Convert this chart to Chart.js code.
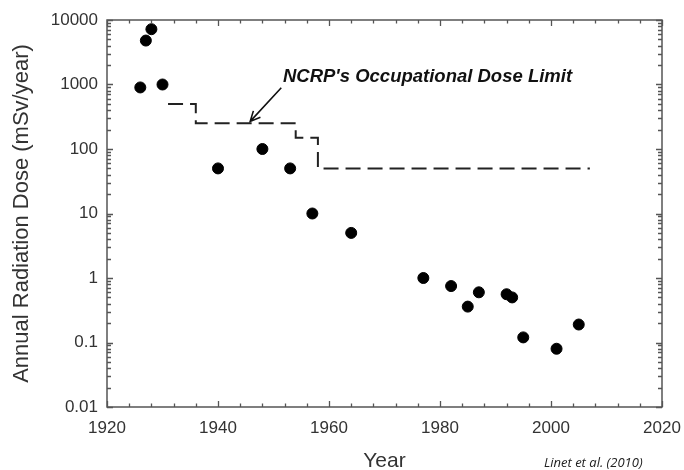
<!DOCTYPE html>
<html lang="en">
    <head>
        <meta charset="utf-8" />
        <title>Annual Radiation Dose</title>
        <style>
            body { margin: 0; background: #fff; }
        </style>
    </head>
    <body>
        <canvas id="doseChart" width="684" height="470"></canvas>
        <script src="https://cdn.jsdelivr.net/npm/chart.js@4.4.1/dist/chart.umd.min.js"></script>
        <script>
            // measured doses
            const years = [1926, 1927, 1928, 1930, 1940, 1948, 1953, 1957, 1964, 1977, 1982, 1985, 1987, 1992, 1993, 1995, 2001, 2005];
            const doses = [900, 4800, 7200, 1000, 50, 100, 50, 10, 5, 1, 0.75, 0.36, 0.6, 0.56, 0.5, 0.12, 0.08, 0.19];
            // NCRP limit, stepped
            const limitYears = [1931, 1936, 1954, 1958, 2007];
            const limitDoses = [500, 250, 150, 50, 50];
            const xTicks = [1920, 1940, 1960, 1980, 2000, 2020];
            const yTicks = [0.01, 0.1, 1, 10, 100, 1000, 10000];
            const limitLabel = "NCRP's Occupational Dose Limit";
            const labelAt = { x: 1951.7, y: 1080 };
            const arrowFrom = { x: 1951.4, y: 890 };
            const arrowTo = { x: 1945.8, y: 268 };
            const source = "Linet et al. (2010)";

            const FONT = "'Liberation Sans', Arial, sans-serif";

            const frame = {
                id: "frame",
                afterDatasetsDraw(chart) {
                    const ctx = chart.ctx;
                    const a = chart.chartArea;
                    const xs = chart.scales.x;
                    const ys = chart.scales.y;
                    ctx.save();
                    ctx.strokeStyle = "#555";
                    ctx.lineWidth = 1.3;
                    ctx.beginPath();
                    // x ticks every 4 years, top and bottom, pointing in
                    for (let v = xTicks[0]; v <= xTicks[xTicks.length - 1]; v += 4) {
                        const px = Math.round(xs.getPixelForValue(v)) + 0.5;
                        const len = v % 20 == 0 ? 6 : 3.5;
                        ctx.moveTo(px, a.bottom);
                        ctx.lineTo(px, a.bottom - len);
                        ctx.moveTo(px, a.top);
                        ctx.lineTo(px, a.top + len);
                    }
                    // y log ticks, left and right
                    for (let d = 0; d < yTicks.length; d++) {
                        for (let m = 1; m <= 9; m++) {
                            if (d == yTicks.length - 1 && m > 1) break;
                            const py = Math.round(ys.getPixelForValue(yTicks[d] * m)) + 0.5;
                            const len = m == 1 ? 6 : 4;
                            ctx.moveTo(a.left, py);
                            ctx.lineTo(a.left + len, py);
                            ctx.moveTo(a.right, py);
                            ctx.lineTo(a.right - len, py);
                        }
                    }
                    ctx.stroke();
                    ctx.lineWidth = 1.5;
                    ctx.strokeRect(a.left, a.top, a.right - a.left, a.bottom - a.top);

                    // annotation
                    ctx.fillStyle = "#111";
                    ctx.font = "italic bold 18.5px " + FONT;
                    ctx.textBaseline = "alphabetic";
                    ctx.fillText(limitLabel, xs.getPixelForValue(labelAt.x), ys.getPixelForValue(labelAt.y));
                    const x1 = xs.getPixelForValue(arrowFrom.x), y1 = ys.getPixelForValue(arrowFrom.y);
                    const x2 = xs.getPixelForValue(arrowTo.x), y2 = ys.getPixelForValue(arrowTo.y);
                    const ang = Math.atan2(y2 - y1, x2 - x1);
                    ctx.strokeStyle = "#111";
                    ctx.lineWidth = 1.6;
                    ctx.beginPath();
                    ctx.moveTo(x1, y1);
                    ctx.lineTo(x2, y2);
                    ctx.moveTo(x2 - 11 * Math.cos(ang - 0.45), y2 - 11 * Math.sin(ang - 0.45));
                    ctx.lineTo(x2, y2);
                    ctx.lineTo(x2 - 11 * Math.cos(ang + 0.45), y2 - 11 * Math.sin(ang + 0.45));
                    ctx.stroke();

                    // source note
                    ctx.fillStyle = "#222";
                    ctx.font = "italic 13px 'Open Sans', sans-serif";
                    ctx.textBaseline = "middle";
                    ctx.fillText(source, 544, 463);
                    ctx.restore();
                },
            };

            new Chart(document.getElementById("doseChart"), {
                type: "scatter",
                data: {
                    datasets: [
                        {
                            label: "Dose",
                            data: years.map((y, i) => ({ x: y, y: doses[i] })),
                            backgroundColor: "#000",
                            borderColor: "#000",
                            pointRadius: 5.5,
                        },
                        {
                            label: "NCRP limit",
                            data: limitYears.map((y, i) => ({ x: y, y: limitDoses[i] })),
                            showLine: true,
                            stepped: true,
                            pointRadius: 0,
                            borderColor: "#222",
                            borderWidth: 2,
                            borderDash: [15, 7],
                        },
                    ],
                },
                options: {
                    responsive: false,
                    animation: false,
                    layout: { padding: { top: 20, right: 22, bottom: 0, left: 0 } },
                    plugins: { legend: { display: false }, tooltip: { enabled: false } },
                    scales: {
                        x: {
                            type: "linear",
                            min: 1920,
                            max: 2020,
                            afterBuildTicks: (s) => { s.ticks = xTicks.map((v) => ({ value: v })); },
                            afterFit: (s) => { s.height = 63; s.paddingLeft = 0; s.paddingRight = 0; },
                            grid: { display: false, drawTicks: false },
                            border: { display: false },
                            ticks: { color: "#333", font: { family: FONT, size: 17 }, padding: 11, maxRotation: 0, callback: (v) => String(v) },
                            title: { display: true, text: "Year", color: "#333", font: { family: FONT, size: 21 }, padding: { top: 0, bottom: -4 } },
                        },
                        y: {
                            type: "logarithmic",
                            min: 0.01,
                            max: 10000,
                            afterBuildTicks: (s) => { s.ticks = yTicks.map((v) => ({ value: v })); },
                            afterFit: (s) => { s.width = 107; s.paddingTop = 0; s.paddingBottom = 0; },
                            grid: { display: false, drawTicks: false },
                            border: { display: false },
                            ticks: { color: "#333", font: { family: FONT, size: 17 }, padding: 9, callback: (v) => String(v) },
                            title: { display: true, text: "Annual Radiation Dose (mSv/year)", color: "#333", font: { family: FONT, size: 22 }, padding: { top: 9, bottom: 0 } },
                        },
                    },
                },
                plugins: [frame],
            });
        </script>
    </body>
</html>
